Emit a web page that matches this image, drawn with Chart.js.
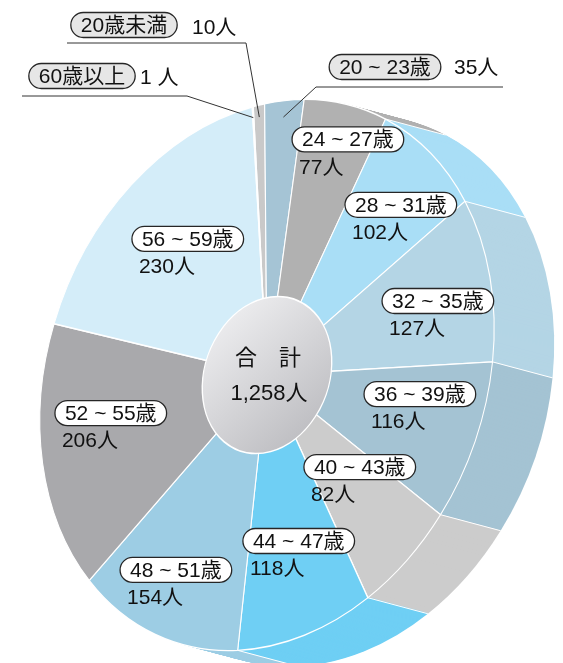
<!DOCTYPE html>
<html>
<head>
<meta charset="utf-8">
<script src="https://cdn.jsdelivr.net/npm/chart.js@4.4.0/dist/chart.umd.min.js"></script>
<style>
  html, body { margin: 0; padding: 0; background: #fff; }
  #wrap { width: 563px; height: 663px; }
</style>
</head>
<body>
<div id="wrap"><canvas id="ageChart" width="563" height="663"></canvas></div>
<script>
const ageGroups = ["20歳未満", "20 ~ 23歳", "24 ~ 27歳", "28 ~ 31歳", "32 ~ 35歳", "36 ~ 39歳",
  "40 ~ 43歳", "44 ~ 47歳", "48 ~ 51歳", "52 ~ 55歳", "56 ~ 59歳", "60歳以上"];
const headcount = [10, 35, 77, 102, 127, 116, 82, 118, 154, 206, 230, 1];
const countLabels = ["10人", "35人", "77人", "102人", "127人", "116人", "82人", "118人", "154人", "206人", "230人", "1 人"];
const sliceColors = ["#c9c9c9", "#a5c4d5", "#b1b1b1", "#a9def6", "#b4d5e5", "#a4c3d3",
  "#cccccc", "#6fcff4", "#9dcde4", "#a9a9ac", "#d4edf9", "#e4e4e4"];

// tilted top face: unit circle -> pixels, and the depth of the side wall
const face = { xx: 226.8, xy: 13.7, yx: -62.8, yy: 268.3 };
const wall = { x: 60, y: 16 };
const hubSize = 0.285;
const labelFont = "21px 'Liberation Sans', 'Noto Sans CJK JP', sans-serif";
const hubFont = "22px 'Liberation Sans', 'Noto Sans CJK JP', sans-serif";

// where the in-slice labels sit (fraction of radius, degrees off the slice middle),
// and the callouts outside the pie
const labelRadius = [null, null, 0.822, 0.718, 0.699, 0.652, 0.567, 0.679, 0.829, 0.751, 0.663, null];
const labelTurn = [0, 0, 0.6, 1.3, 2.6, -3.4, 0.3, 2.8, 4.4, 4.3, -1.5, 0];
const callouts = {
  0: { pill: [124, 25], text: [192, 27], elbow: [246, 43], shelf: 67, reach: 0.956 },
  1: { pill: [385, 67], text: [454, 67], elbow: [316, 87], shelf: 503, reach: 0.94 },
  11: { pill: [82, 76], text: [140, 77], elbow: [187, 96], shelf: 22, reach: 0.96 }
};

const applyFace = (ctx, arc) => {
  const r = arc.outerRadius;
  ctx.translate(arc.x, arc.y);
  ctx.transform(face.xx / r, face.yx / r, face.xy / r, face.yy / r, 0, 0);
  ctx.translate(-arc.x, -arc.y);
};

const facePoint = (arc, angle, frac) => {
  const ux = Math.cos(angle) * frac, uy = Math.sin(angle) * frac;
  return [arc.x + face.xx * ux + face.xy * uy, arc.y + face.yx * ux + face.yy * uy];
};

const pillPath = (ctx, x, y, w, h) => {
  const r = h / 2;
  ctx.beginPath();
  ctx.moveTo(x + r, y);
  ctx.lineTo(x + w - r, y);
  ctx.arc(x + w - r, y + r, r, -Math.PI / 2, Math.PI / 2);
  ctx.lineTo(x + r, y + h);
  ctx.arc(x + r, y + r, r, Math.PI / 2, Math.PI * 1.5);
  ctx.closePath();
};

const drawPill = (ctx, text, left, cy, fill) => {
  ctx.font = labelFont;
  const w = ctx.measureText(text).width + 20, h = 25;
  pillPath(ctx, left, cy - h / 2, w, h);
  ctx.fillStyle = fill;
  ctx.fill();
  ctx.lineWidth = 1.3;
  ctx.strokeStyle = "#262626";
  ctx.stroke();
  ctx.fillStyle = "#111";
  ctx.textAlign = "left";
  ctx.textBaseline = "middle";
  ctx.fillText(text, left + 10, cy + 1);
};

const tiltedPie = {
  id: "tiltedPie",
  beforeDatasetsDraw(chart) {
    const ctx = chart.ctx;
    const arcs = chart.getDatasetMeta(0).data;
    const steps = 60;

    // side wall: the face swept along the depth vector
    for (let i = steps; i >= 1; i--) {
      const t = i / steps;
      ctx.save();
      ctx.translate(wall.x * t, wall.y * t);
      applyFace(ctx, arcs[0]);
      arcs.forEach((arc, k) => {
        ctx.beginPath();
        ctx.moveTo(arc.x, arc.y);
        ctx.arc(arc.x, arc.y, arc.outerRadius, arc.startAngle, arc.endAngle);
        ctx.closePath();
        ctx.fillStyle = sliceColors[k];
        ctx.fill();
      });
      ctx.restore();
    }

    ctx.save();
    ctx.strokeStyle = "#fff";
    ctx.lineWidth = 1;
    arcs.forEach(arc => {
      const [px, py] = facePoint(arc, arc.startAngle, 1);
      ctx.beginPath();
      ctx.moveTo(px, py);
      ctx.lineTo(px + wall.x, py + wall.y);
      ctx.stroke();
    });
    ctx.restore();

    ctx.save();
    applyFace(ctx, arcs[0]);
  },
  afterDatasetsDraw(chart) {
    const ctx = chart.ctx;
    ctx.restore();
    const arcs = chart.getDatasetMeta(0).data;
    const hub = arcs[0];

    // centre disc
    ctx.save();
    applyFace(ctx, hub);
    const hr = hub.outerRadius * hubSize;
    const grad = ctx.createLinearGradient(hub.x - hr * 0.5, hub.y - hr, hub.x + hr * 0.5, hub.y + hr);
    grad.addColorStop(0, "#ededef");
    grad.addColorStop(1, "#bdbdc1");
    ctx.beginPath();
    ctx.arc(hub.x, hub.y, hr, 0, Math.PI * 2);
    ctx.fillStyle = grad;
    ctx.fill();
    ctx.lineWidth = 1.6;
    ctx.strokeStyle = "#fff";
    ctx.stroke();
    ctx.restore();

    const total = headcount.reduce((s, v) => s + v, 0);
    ctx.fillStyle = "#111";
    ctx.font = hubFont;
    ctx.textAlign = "center";
    ctx.textBaseline = "middle";
    ctx.fillText("合　計", hub.x + 1, hub.y - 16);
    ctx.fillText(total.toLocaleString("en-US") + "人", hub.x + 2, hub.y + 19);

    arcs.forEach((arc, k) => {
      const mid = (arc.startAngle + arc.endAngle) / 2;
      if (labelRadius[k] !== null) {
        const turn = labelTurn[k] * Math.PI / 180;
        const [gx, gy] = facePoint(arc, mid + turn, labelRadius[k]);
        drawPill(ctx, ageGroups[k], gx - 42, gy - 13.5, "#fff");
        ctx.fillStyle = "#111";
        ctx.textAlign = "left";
        ctx.fillText(countLabels[k], gx - 35, gy + 15);
        return;
      }
      const c = callouts[k];
      const [px, py] = facePoint(arc, mid, c.reach);
      ctx.beginPath();
      ctx.moveTo(px, py);
      ctx.lineTo(c.elbow[0], c.elbow[1]);
      ctx.lineTo(c.shelf, c.elbow[1]);
      ctx.lineWidth = 1;
      ctx.strokeStyle = "#333";
      ctx.stroke();
      ctx.font = labelFont;
      const w = ctx.measureText(ageGroups[k]).width + 20;
      drawPill(ctx, ageGroups[k], c.pill[0] - w / 2, c.pill[1], "#e6e6e6");
      ctx.fillStyle = "#111";
      ctx.textAlign = "left";
      ctx.fillText(countLabels[k], c.text[0], c.text[1] + 1);
    });
  }
};

document.addEventListener("DOMContentLoaded", () => {
  const ctx = document.getElementById("ageChart").getContext("2d");
  new Chart(ctx, {
    type: "pie",
    data: {
      labels: ageGroups,
      datasets: [{
        data: headcount,
        backgroundColor: sliceColors,
        borderColor: "#ffffff",
        borderWidth: 1.3,
        clip: false
      }]
    },
    options: {
      responsive: false,
      animation: false,
      events: [],
      layout: { padding: { left: 0, right: 29, top: 100, bottom: 13 } },
      plugins: {
        legend: { display: false },
        tooltip: { enabled: false }
      }
    },
    plugins: [tiltedPie]
  });
});
</script>
</body>
</html>
